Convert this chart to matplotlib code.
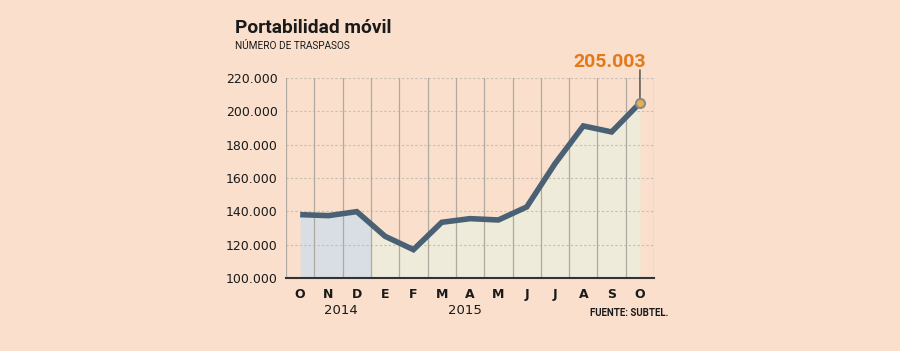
import matplotlib.pyplot as plt
from matplotlib.ticker import FuncFormatter

# Data
months = ['O', 'N', 'D', 'E', 'F', 'M', 'A', 'M', 'J', 'J', 'A', 'S', 'O']
traspasos = [138000, 137400, 139800, 125000, 117000, 133400, 135600, 134800,
             142600, 168600, 191200, 187600, 205003]
years = ['2014', '2015']
yticks = [100000, 120000, 140000, 160000, 180000, 200000, 220000]

bg = '#f9dfcc'
line_col = '#4a6074'
dark = '#1a1a1a'
narrow = ['Roboto', 'DejaVu Sans']

fig = plt.figure(figsize=(9, 3.51), dpi=100, facecolor=bg)
ax = fig.add_axes([0.3178, 0.208, 0.409, 0.570], facecolor=bg)

x = list(range(len(months)))

# fills: 2014 part (blue-grey), 2015 part (beige)
mid = (traspasos[2] + traspasos[3]) / 2
ax.fill_between([0, 1, 2, 2.5], traspasos[:3] + [mid], 100000,
                color='#d9dde4', lw=0, zorder=1)
ax.fill_between([2.5] + x[3:], [mid] + traspasos[3:], 100000,
                color='#eeebda', lw=0, zorder=1)

# grid
for v in yticks[1:]:
    ax.axhline(v, color='#c8bdb2', lw=0.8, ls=(0, (2, 2)), zorder=2)
for i in range(len(months) - 1):
    ax.axvline(i + 0.5, color='#b0a9a2', lw=0.9, zorder=2)

ax.plot(x, traspasos, color=line_col, lw=4, solid_capstyle='butt',
        solid_joinstyle='miter', zorder=4)
ax.plot(x[-1], traspasos[-1], 'o', ms=6.5, mfc='#e8b04a', mec='#8a8a8a',
        mew=1.5, zorder=5)

ax.set_xlim(-0.5, 12.5)
ax.set_ylim(100000, 220000)
ax.set_yticks(yticks)
ax.yaxis.set_major_formatter(FuncFormatter(lambda v, p: f'{int(v):,}'.replace(',', '.')))
ax.set_xticks(x)
ax.set_xticklabels(months, fontweight='bold', fontsize=8.5, color=dark)
ax.tick_params(axis='both', length=0, labelsize=9, colors=dark)
ax.tick_params(axis='x', pad=7)
ax.tick_params(axis='y', pad=6)

for s in ['left', 'right', 'top']:
    ax.spines[s].set_visible(False)
ax.axvline(-0.5, color='#b0a9a2', lw=0.9, zorder=2)
ax.axvline(12.5, color='#b0a9a2', lw=0.9, zorder=2)
ax.spines['bottom'].set_color('#333333')
ax.spines['bottom'].set_linewidth(1.5)
ax.spines['bottom'].set_zorder(6)

# annotation of last value
ax.annotate('', xy=(x[-1], traspasos[-1]), xytext=(x[-1], 226500),
            arrowprops=dict(arrowstyle='-', color='#333333', lw=0.9),
            annotation_clip=False, zorder=3)
fig.text(646 / 900, 1 - 62 / 351, '205.003', color='#e27a1c', fontsize=14,
         fontweight='bold', family=narrow, ha='right', va='center')

# titles
fig.text(235 / 900, 1 - 28 / 351, 'Portabilidad móvil', fontsize=13.8,
         fontweight='bold', family=narrow, color=dark, va='center')
fig.text(235 / 900, 1 - 46 / 351, 'NÚMERO DE TRASPASOS', fontsize=7.2,
         family=narrow, color=dark, va='center')

# years and source
fig.text(341 / 900, 1 - 311 / 351, years[0], fontsize=9.5,
         color=dark, ha='center', va='center')
fig.text(465 / 900, 1 - 311 / 351, years[1], fontsize=9.5,
         color=dark, ha='center', va='center')
fig.text(668 / 900, 1 - 313 / 351, 'FUENTE: SUBTEL.', fontsize=7,
         fontweight='bold', family=narrow, color=dark, ha='right', va='center')

fig.savefig('out.png', dpi=100, facecolor=bg)
